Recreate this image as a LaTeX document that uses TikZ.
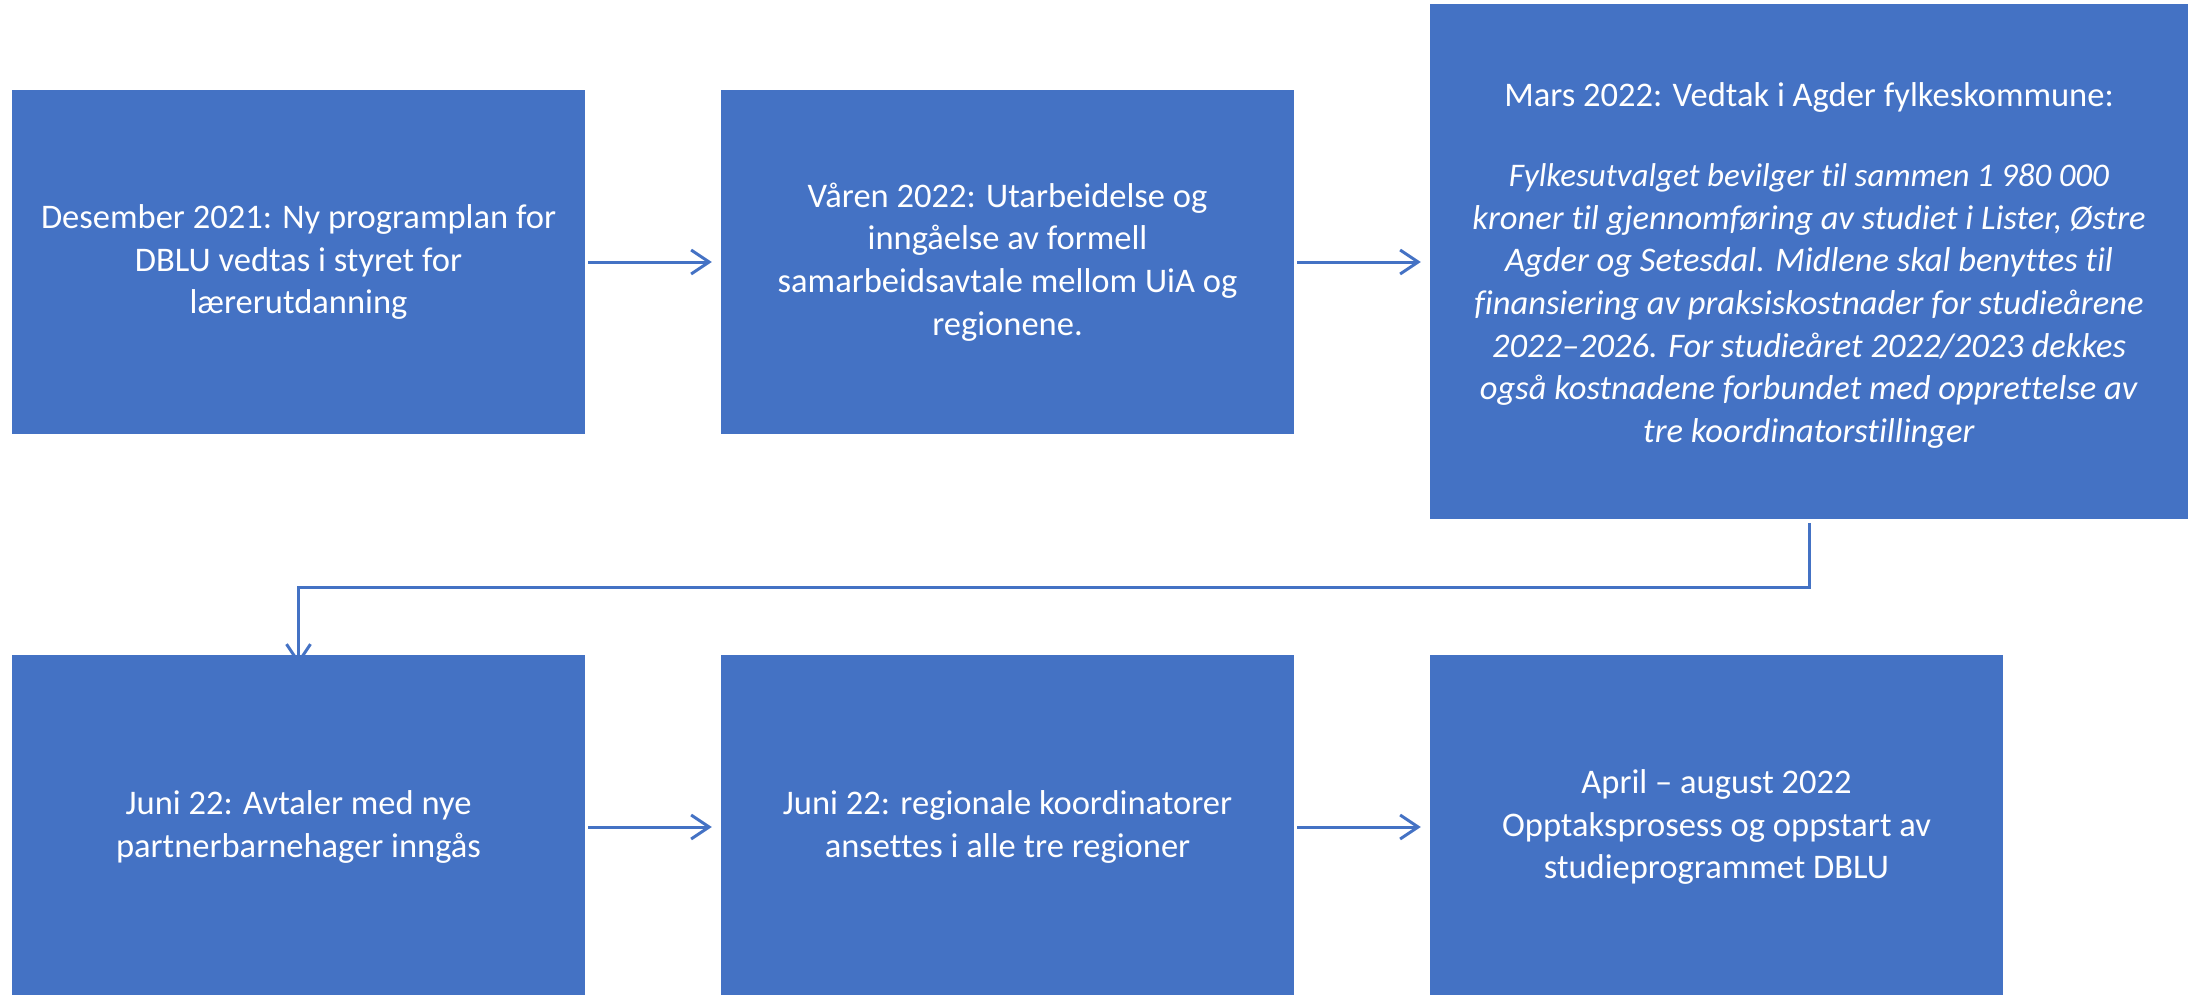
\documentclass[tikz,border=0pt]{standalone}
\usepackage{fontspec}
\setmainfont[Ligatures=NoCommon]{Carlito}
\usetikzlibrary{arrows.meta}
\definecolor{officeblue}{HTML}{4472C4}

\begin{document}
\begin{tikzpicture}[x=1pt,y=-1pt,
		box/.style={rectangle,fill=officeblue,text=white,align=center,inner sep=0pt,font=\fontsize{34.5}{42.7}\selectfont},
		small/.style={box,minimum width=573pt,minimum height=344pt},
		big/.style={box,minimum width=758pt,minimum height=515pt},
		conn/.style={officeblue,line width=3pt,-{Straight Barb[length=18pt,width=24pt]}}]
	\useasboundingbox (0,0) rectangle (2193,994);

	\node[small]	(0)	at (298.5,262)	{Desember 2021: Ny programplan for\\DBLU vedtas i styret for\\lærerutdanning};
	\node[small]	(1)	at (1007.5,262)	{Våren 2022: Utarbeidelse og\\inngåelse av formell\\samarbeidsavtale mellom UiA og\\regionene.};
	\node[big]		(2)	at (1809,261.5)	{\rule{0pt}{32pt}Mars 2022: Vedtak i Agder fylkeskommune:\\[37pt]
		\fontsize{33}{42.2}\selectfont
		\textit{Fylkesutvalget bevilger til sammen 1 980 000}\\
		\textit{kroner til gjennomføring av studiet i Lister, Østre}\\
		\textit{Agder og Setesdal. Midlene skal benyttes til}\\
		\textit{finansiering av praksiskostnader for studieårene}\\
		\textit{2022–2026. For studieåret 2022/2023 dekkes}\\
		\textit{også kostnadene forbundet med opprettelse av}\\
		\textit{tre koordinatorstillinger}};
	\node[small]	(3)	at (298.5,827)	{Juni 22: Avtaler med nye\\partnerbarnehager inngås};
	\node[small]	(4)	at (1007.5,827)	{Juni 22: regionale koordinatorer\\ansettes i alle tre regioner};
	\node[small]	(5)	at (1716.5,827)	{April – august 2022\\Opptaksprosess og oppstart av\\studieprogrammet DBLU};
	\coordinate		(b)	at (1809,587);

	\draw[conn,shorten <=3pt,shorten >=9pt] (0) -- (1);
	\draw[conn,shorten <=3pt,shorten >=9pt] (1) -- (1.east -| 2.west);
	\draw[conn,shorten <=4pt] (2.south) -- (b) -| ([yshift=-10pt]3.north);
	\draw[conn,shorten <=3pt,shorten >=9pt] (3) -- (4);
	\draw[conn,shorten <=3pt,shorten >=9pt] (4) -- (5);
\end{tikzpicture}
\end{document}
